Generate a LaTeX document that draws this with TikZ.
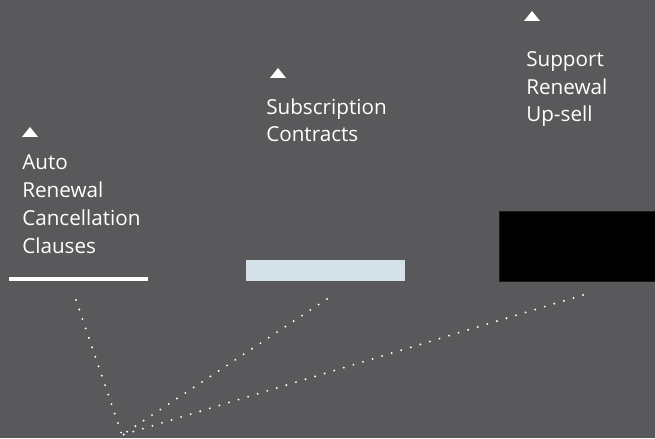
\documentclass[tikz,border=0pt]{standalone}
\usepackage{fontspec}
\setmainfont{Open Sans}
\usepackage{tikz}
\usetikzlibrary{calc}

\definecolor{slate}{HTML}{59595B}
\definecolor{paleblue}{HTML}{D4E1E9}

\begin{document}
\begin{tikzpicture}[x=0.75pt,y=-0.75pt]
\tikzset{
	label text/.style = {anchor=base west, inner sep=0, align=left, text=white,
		font=\fontsize{15.5}{20.8}\selectfont},
	dot line/.style = {white, line width=1.6pt, line cap=round, dash pattern=on 0pt off 7.5pt},
	bar/.style = {inner sep=0, anchor=north west},
}

% background
\fill[slate] (0,0) rectangle (655,438);
\useasboundingbox (0,0) rectangle (655,438);

% labels (anchored on the last line)
\node(a)[label text] at (22,253) {Auto\\Renewal\\Cancellation\\Clauses};
\node(b)[label text] at (266,142) {Subscription\\Contracts};
\node(c)[label text] at (526,122) {Support\\Renewal\\Up-sell};

% markers
\coordinate(ta) at (30,132);
\coordinate(tb) at (278,73);
\coordinate(tc) at (532,16);
\foreach \t in {ta,tb,tc}
	\fill[white] (\t) ++(-8,5) -- ++(16,0) -- ++(-8,-10) -- cycle;

% bars
\node(bara)[bar, fill=white, minimum width=139*0.75pt, minimum height=4*0.75pt] at (9,276.5) {};
\node(barb)[bar, fill=paleblue, minimum width=159*0.75pt, minimum height=21*0.75pt] at (246,260) {};
\node(barc)[bar, fill=black, draw=black!70!slate, minimum width=160*0.75pt, minimum height=70*0.75pt] at (499,211) {};

% dotted connectors
\coordinate(hub) at (122,435);
\coordinate(sa) at (76,300);
\coordinate(sb) at (327,299);
\coordinate(sc) at (583,295);
\foreach \s in {sa,sb,sc}
	\draw[dot line] (\s) -- (hub);

\end{tikzpicture}
\end{document}
